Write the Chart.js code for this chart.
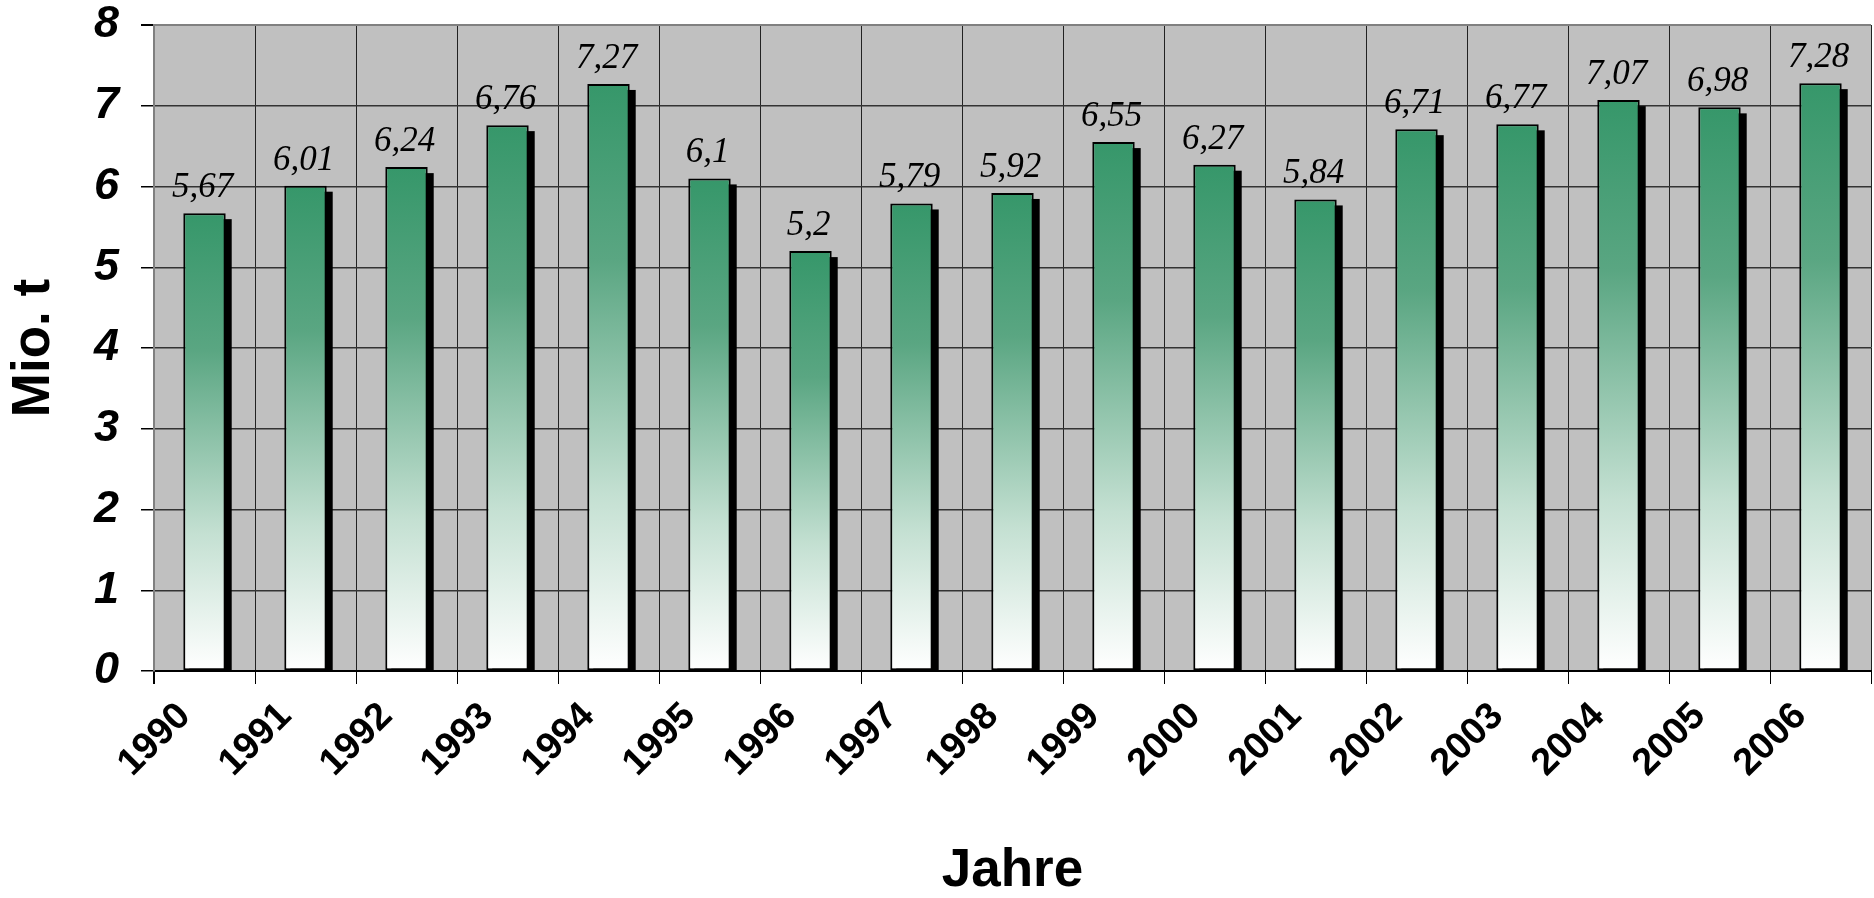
<!DOCTYPE html>
<html>
<head>
<meta charset="utf-8">
<script src="https://cdn.jsdelivr.net/npm/chart.js@4/dist/chart.umd.min.js"></script>
<style>
  html, body { margin: 0; padding: 0; background: #fff; }
  #wrap { width: 1874px; height: 898px; }
</style>
</head>
<body>
<div id="wrap"><canvas id="chart" width="1874" height="898"></canvas></div>
<script>
const years = ["1990", "1991", "1992", "1993", "1994", "1995", "1996", "1997", "1998",
  "1999", "2000", "2001", "2002", "2003", "2004", "2005", "2006"];
const values = [5.67, 6.01, 6.24, 6.76, 7.27, 6.1, 5.2, 5.79, 5.92,
  6.55, 6.27, 5.84, 6.71, 6.77, 7.07, 6.98, 7.28];
const yMin = 0;
const yMax = 8;
const xTitle = "Jahre";
const yTitle = "Mio. t";

// grey plot background
const plotBg = {
  id: "plotBg",
  beforeDraw(chart) {
    const { ctx, chartArea: a } = chart;
    ctx.save();
    ctx.fillStyle = "#c0c0c0";
    ctx.fillRect(a.left, a.top, a.right - a.left, a.bottom - a.top);
    ctx.restore();
  },
};

// black drop shadow behind each bar
const barShadow = {
  id: "barShadow",
  beforeDatasetsDraw(chart) {
    const { ctx } = chart;
    const meta = chart.getDatasetMeta(0);
    ctx.save();
    ctx.fillStyle = "#000";
    meta.data.forEach((bar) => {
      const p = bar.getProps(["x", "y", "width", "base"], true);
      const left = p.x - p.width / 2 + 6;
      ctx.fillRect(left, p.y + 6, p.width, p.base - p.y - 6);
    });
    ctx.restore();
  },
};

// value labels above bars
const valueLabels = {
  id: "valueLabels",
  afterDatasetsDraw(chart) {
    const { ctx } = chart;
    const meta = chart.getDatasetMeta(0);
    ctx.save();
    ctx.font = "italic 35px 'Liberation Serif', 'Times New Roman', serif";
    ctx.fillStyle = "#000";
    ctx.textAlign = "center";
    ctx.textBaseline = "alphabetic";
    meta.data.forEach((bar, i) => {
      const p = bar.getProps(["x", "y"], true);
      ctx.fillText(String(values[i]).replace(".", ","), p.x - 2, p.y - 16);
    });
    ctx.restore();
  },
};

function barGradient(context) {
  const chart = context.chart;
  if (!chart.chartArea || !chart.scales.y) return "#3a9a6a";
  const y = chart.scales.y;
  const top = y.getPixelForValue(values[context.dataIndex]);
  const bottom = y.getPixelForValue(0);
  const g = chart.ctx.createLinearGradient(0, top, 0, bottom);
  g.addColorStop(0, "#36976a");
  g.addColorStop(0.3, "#5aa682");
  g.addColorStop(0.7, "#c4e0d2");
  g.addColorStop(1, "#ffffff");
  return g;
}

const ctx = document.getElementById("chart").getContext("2d");
new Chart(ctx, {
  type: "bar",
  data: {
    labels: years,
    datasets: [
      {
        data: values,
        backgroundColor: barGradient,
        borderColor: "#000",
        borderWidth: 2,
        borderSkipped: false,
        categoryPercentage: 1,
        barPercentage: 0.42,
      },
    ],
  },
  options: {
    responsive: false,
    animation: false,
    layout: { padding: { top: 25, right: 3, left: 0, bottom: 0 } },
    plugins: {
      legend: { display: false },
      tooltip: { enabled: false },
    },
    scales: {
      x: {
        grid: {
          offset: true,
          color: (c) => (c.index === 0 ? "#808080" : "#222"),
          lineWidth: (c) => (c.index === 0 ? 2 : 1),
          tickLength: 13,
          tickColor: "#000",
        },
        border: { color: "#000", width: 2 },
        ticks: {
          autoSkip: false,
          minRotation: 45,
          maxRotation: 45,
          padding: 10,
          labelOffset: -20,
          color: "#000",
          font: { family: "'Liberation Sans', Arial, sans-serif", size: 38, weight: "bold" },
        },
        title: {
          display: true,
          text: xTitle,
          color: "#000",
          padding: 0,
          font: { family: "'Liberation Sans', Arial, sans-serif", size: 53, weight: "bold", lineHeight: 1 },
        },
        afterFit(scale) {
          scale.height = 227;
          scale.paddingLeft = 0;
          scale.paddingRight = 0;
        },
      },
      y: {
        min: yMin,
        max: yMax,
        ticks: {
          stepSize: 1,
          padding: 22,
          color: "#000",
          font: { family: "'Liberation Sans', Arial, sans-serif", size: 45, weight: "bold", style: "italic" },
        },
        grid: {
          color: (c) => (c.tick && c.tick.value === yMax ? "#808080" : "#333"),
          lineWidth: (c) => (c.tick && c.tick.value === yMax ? 2 : 1.5),
          tickLength: 13,
          tickColor: "#000",
        },
        border: { color: "#808080", width: 2 },
        title: {
          display: true,
          text: yTitle,
          color: "#000",
          padding: { top: 8, bottom: 0 },
          font: { family: "'Liberation Sans', Arial, sans-serif", size: 53, weight: "bold", lineHeight: 1 },
        },
        afterFit(scale) {
          scale.width = 154;
          scale.paddingTop = 0;
          scale.paddingBottom = 0;
        },
      },
    },
  },
  plugins: [plotBg, barShadow, valueLabels],
});
</script>
</body>
</html>
